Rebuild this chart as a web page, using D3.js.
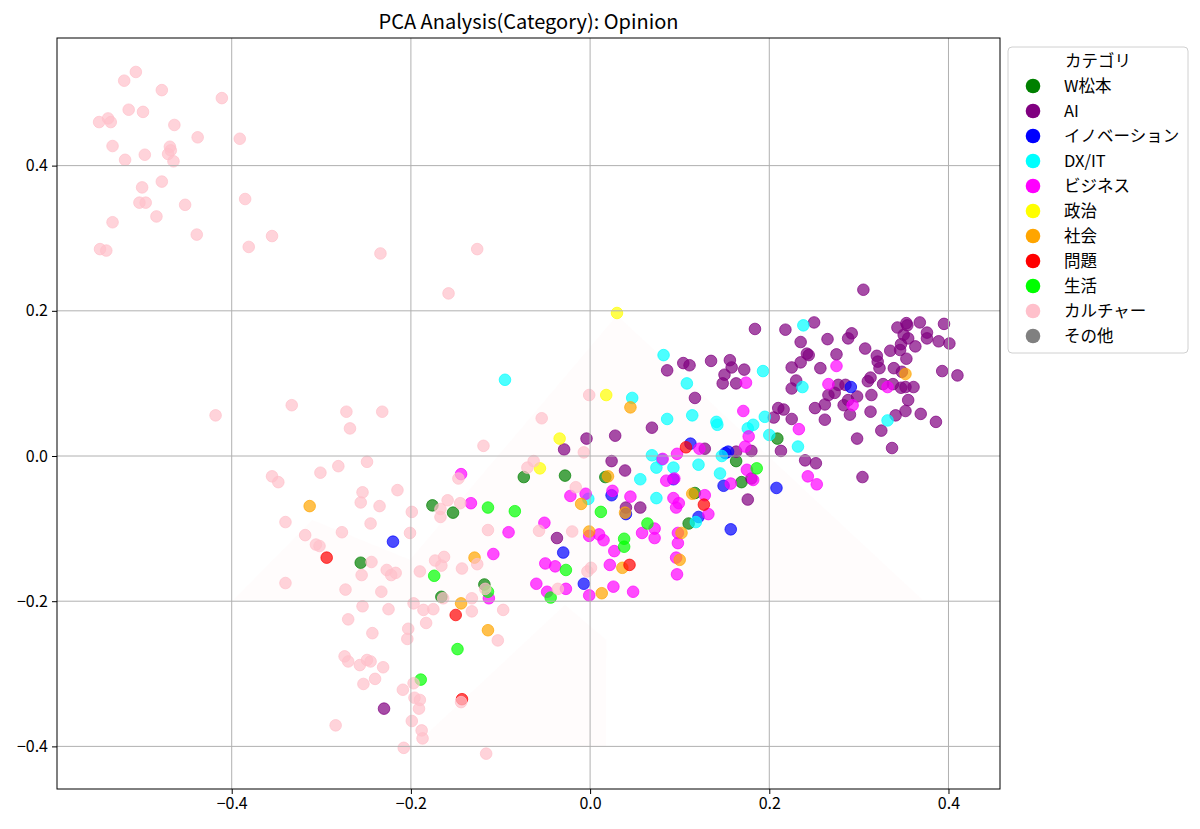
<!DOCTYPE html>
<html>
<head>
<meta charset="utf-8">
<script src="https://cdn.jsdelivr.net/npm/d3@7"></script>
<style>
  body { margin: 0; background: #fff; }
  svg { display: block; }
  text { font-family: "Noto Sans CJK JP", "Noto Sans", sans-serif; fill: #000; }
</style>
</head>
<body>
<div id="chart"></div>
<script>
// PCA scatter, one array of [pc1, pc2] per category
var CATEGORIES = ["W松本", "AI", "イノベーション", "DX/IT", "ビジネス", "政治", "社会", "問題", "生活", "カルチャー", "その他"];
var COLORS = ["#008000", "#800080", "#0000ff", "#00ffff", "#ff00ff", "#ffff00", "#ffa500", "#ff0000", "#00ff00", "#ffc0cb", "#808080"];

var W_MATSUMOTO = [[-0.176,-0.068],[-0.153,-0.078],[-0.256,-0.147],[-0.166,-0.194],[-0.118,-0.177],[-0.074,-0.029],
  [-0.028,-0.027],[0.017,-0.029],[0.117,-0.051],[0.110,-0.093],[0.163,-0.007],[0.169,-0.036],[0.209,0.024]];

var AI = [[-0.230,-0.348],[-0.029,0.009],[-0.004,0.024],[0.028,0.028],[0.024,-0.007],[-0.037,-0.113],
  [0.184,0.175],[0.218,0.174],[0.235,0.157],[0.242,0.141],[0.244,0.139],[0.104,0.128],[0.111,0.125],[0.086,0.118],
  [0.135,0.131],[0.156,0.132],[0.158,0.122],[0.172,0.119],[0.150,0.112],[0.148,0.100],[0.163,0.100],[0.225,0.122],
  [0.235,0.129],[0.230,0.104],[0.225,0.093],[0.117,0.080],[0.210,0.066],[0.216,0.064],[0.205,0.053],[0.225,0.051],
  [0.069,0.039],[0.213,0.007],[0.128,0.010],[0.163,0.006],[0.180,0.007],[0.039,-0.020],[0.180,-0.031],[0.240,-0.006],
  [0.176,-0.060],[0.040,-0.071],[0.056,-0.071],[0.305,0.229],[0.250,0.184],[0.265,0.161],[0.288,0.162],[0.292,0.169],
  [0.275,0.140],[0.307,0.148],[0.320,0.138],[0.321,0.130],[0.323,0.121],[0.343,0.177],[0.353,0.183],[0.354,0.180],
  [0.368,0.184],[0.395,0.182],[0.376,0.170],[0.376,0.162],[0.389,0.158],[0.401,0.155],[0.350,0.167],[0.355,0.162],
  [0.347,0.154],[0.346,0.146],[0.363,0.151],[0.335,0.145],[0.353,0.134],[0.339,0.121],[0.348,0.116],[0.393,0.117],
  [0.410,0.111],[0.257,0.121],[0.277,0.098],[0.285,0.098],[0.313,0.108],[0.310,0.103],[0.327,0.099],[0.338,0.099],
  [0.347,0.094],[0.352,0.095],[0.361,0.095],[0.266,0.084],[0.273,0.087],[0.298,0.082],[0.314,0.084],[0.288,0.077],
  [0.283,0.070],[0.262,0.071],[0.251,0.066],[0.355,0.077],[0.352,0.062],[0.341,0.056],[0.313,0.061],[0.290,0.057],
  [0.369,0.058],[0.386,0.047],[0.262,0.050],[0.325,0.035],[0.298,0.024],[0.337,0.011],[0.252,-0.010],[0.304,-0.029]];

var INNOVATION = [[-0.220,-0.118],[-0.030,-0.133],[-0.007,-0.176],[0.024,-0.054],[0.040,-0.080],[0.112,0.017],
  [0.151,0.004],[0.154,0.006],[0.093,-0.032],[0.149,-0.041],[0.208,-0.044],[0.121,-0.084],[0.157,-0.101],[0.291,0.095]];

var DX_IT = [[-0.095,0.105],[-0.002,-0.059],[0.238,0.180],[0.082,0.139],[0.193,0.117],[0.237,0.095],[0.108,0.100],
  [0.047,0.080],[0.195,0.054],[0.086,0.051],[0.114,0.056],[0.141,0.047],[0.142,0.043],[0.182,0.043],[0.176,0.038],
  [0.200,0.029],[0.232,0.013],[0.069,0.001],[0.080,-0.005],[0.074,-0.016],[0.093,-0.016],[0.121,-0.012],[0.147,0.000],
  [0.056,-0.032],[0.145,-0.024],[0.074,-0.058],[0.118,-0.091],[0.332,0.049]];

var BUSINESS = [[-0.144,-0.025],[-0.133,-0.065],[-0.091,-0.105],[-0.051,-0.092],[-0.022,-0.055],[-0.005,-0.052],
  [0.025,-0.048],[-0.001,-0.110],[0.010,-0.108],[0.015,-0.116],[0.027,-0.131],[-0.108,-0.135],[-0.050,-0.148],
  [-0.039,-0.152],[0.022,-0.150],[-0.060,-0.176],[-0.048,-0.187],[-0.027,-0.183],[0.026,-0.180],[-0.001,-0.192],
  [-0.113,-0.196],[0.174,0.101],[0.171,0.062],[0.233,0.037],[0.177,0.027],[0.122,0.010],[0.097,0.003],[0.081,-0.004],
  [0.085,-0.034],[0.094,-0.031],[0.157,-0.038],[0.175,-0.019],[0.182,-0.033],[0.243,-0.028],[0.045,-0.056],
  [0.093,-0.058],[0.128,-0.054],[0.099,-0.065],[0.096,-0.071],[0.132,-0.080],[0.072,-0.100],[0.058,-0.106],
  [0.072,-0.113],[0.098,-0.106],[0.098,-0.120],[0.096,-0.140],[0.097,-0.163],[0.048,-0.187],[0.275,0.124],
  [0.266,0.099],[0.332,0.095],[0.293,0.070],[0.253,-0.039],[0.173,0.013]];

var POLITICS = [[0.030,0.197],[0.018,0.084],[-0.034,0.024],[-0.056,-0.017]];

var SOCIETY = [[-0.313,-0.069],[0.020,-0.028],[-0.010,-0.066],[-0.001,-0.104],[-0.129,-0.140],[0.013,-0.189],
  [-0.144,-0.203],[-0.114,-0.240],[0.045,0.067],[0.114,-0.052],[0.039,-0.078],[0.102,-0.106],[0.100,-0.143],
  [0.036,-0.154],[0.352,0.113]];

var PROBLEM = [[-0.294,-0.140],[-0.150,-0.219],[-0.143,-0.335],[0.107,0.012],[0.127,-0.067],[0.044,-0.150]];

var LIFE = [[-0.114,-0.071],[-0.084,-0.076],[0.012,-0.077],[-0.027,-0.157],[-0.174,-0.165],[-0.114,-0.187],
  [-0.044,-0.195],[-0.148,-0.266],[-0.189,-0.308],[0.064,-0.093],[0.038,-0.114],[0.038,-0.125],[0.186,-0.017]];

var CULTURE = [[-0.507,0.529],[-0.520,0.517],[-0.478,0.504],[-0.411,0.493],[-0.515,0.477],[-0.499,0.474],
  [-0.548,0.460],[-0.538,0.465],[-0.535,0.460],[-0.464,0.456],[-0.438,0.439],[-0.391,0.437],[-0.533,0.427],
  [-0.469,0.426],[-0.468,0.421],[-0.471,0.416],[-0.497,0.415],[-0.519,0.408],[-0.465,0.406],[-0.478,0.378],
  [-0.500,0.370],[-0.503,0.349],[-0.496,0.349],[-0.452,0.346],[-0.385,0.354],[-0.484,0.330],[-0.533,0.322],
  [-0.439,0.305],[-0.355,0.303],[-0.381,0.288],[-0.547,0.285],[-0.540,0.283],[-0.234,0.279],[-0.126,0.285],
  [-0.158,0.224],[-0.418,0.056],[-0.333,0.070],[-0.272,0.061],[-0.232,0.061],[-0.268,0.038],[-0.249,-0.008],
  [-0.281,-0.014],[-0.301,-0.023],[-0.355,-0.028],[-0.348,-0.036],[-0.254,-0.050],[-0.215,-0.047],[-0.256,-0.064],
  [-0.235,-0.069],[-0.199,-0.077],[-0.340,-0.091],[-0.245,-0.093],[-0.277,-0.105],[-0.201,-0.106],[-0.318,-0.109],
  [-0.306,-0.122],[-0.302,-0.124],[-0.244,-0.146],[-0.227,-0.157],[-0.222,-0.164],[-0.217,-0.161],[-0.255,-0.164],
  [-0.190,-0.159],[-0.173,-0.144],[-0.340,-0.175],[-0.273,-0.184],[-0.233,-0.187],[-0.254,-0.207],[-0.225,-0.211],
  [-0.197,-0.203],[-0.186,-0.212],[-0.175,-0.211],[-0.270,-0.225],[-0.203,-0.238],[-0.183,-0.230],[-0.243,-0.244],
  [-0.204,-0.252],[-0.274,-0.276],[-0.270,-0.283],[-0.257,-0.288],[-0.249,-0.281],[-0.245,-0.283],[-0.231,-0.291],
  [-0.240,-0.307],[-0.253,-0.314],[-0.209,-0.322],[-0.197,-0.313],[-0.196,-0.333],[-0.190,-0.336],[-0.191,-0.348],
  [-0.199,-0.365],[-0.188,-0.378],[-0.187,-0.389],[-0.284,-0.371],[-0.208,-0.402],[-0.167,-0.073],[-0.167,-0.084],
  [-0.159,-0.061],[-0.145,-0.065],[-0.147,-0.031],[-0.119,0.014],[-0.054,0.052],[-0.001,0.084],[-0.007,0.005],
  [-0.063,-0.007],[-0.070,-0.016],[-0.016,-0.043],[-0.114,-0.102],[-0.057,-0.103],[-0.020,-0.104],[-0.163,-0.139],
  [-0.166,-0.151],[-0.143,-0.155],[-0.126,-0.149],[0.001,-0.154],[-0.003,-0.159],[-0.036,-0.183],[-0.117,-0.183],
  [-0.164,-0.196],[-0.132,-0.196],[-0.132,-0.214],[-0.097,-0.212],[-0.103,-0.254],[-0.144,-0.339],[-0.116,-0.410]];

var OTHER = [];

var SERIES = [W_MATSUMOTO, AI, INNOVATION, DX_IT, BUSINESS, POLITICS, SOCIETY, PROBLEM, LIFE, CULTURE, OTHER];

var X_TICKS = [-0.4, -0.2, 0.0, 0.2, 0.4];
var Y_TICKS = [-0.4, -0.2, 0.0, 0.2, 0.4];

// very faint pink backdrop shapes seen behind the points
var BACKDROP = [
  [[-0.398,-0.198],[-0.310,-0.088],[-0.201,-0.143],[0.030,0.194],[0.371,-0.198]],
  [[-0.198,-0.401],[-0.028,-0.205],[0.018,-0.253],[0.018,-0.401]]
];

(function () {
  var W = 1200, H = 829;
  var plotL = 57, plotR = 1000, plotT = 38, plotB = 789;

  var svg = d3.select("#chart").append("svg")
    .attr("width", W)
    .attr("height", H);

  var x = d3.scaleLinear().domain([-0.595, 0.4575]).range([plotL, plotR]);
  var y = d3.scaleLinear().domain([-0.4587, 0.5758]).range([plotB, plotT]);
  var fmt = d3.format(".1f");

  svg.append("g").selectAll("path")
    .data(BACKDROP)
    .enter().append("path")
    .attr("d", function (pts) {
      return "M" + pts.map(function (p) { return x(p[0]) + "," + y(p[1]); }).join("L") + "Z";
    })
    .attr("fill", "#ffc0cb")
    .attr("fill-opacity", 0.05);

  // points, one group per category in legend order
  var plot = svg.append("g");
  SERIES.forEach(function (pts, i) {
    plot.append("g").selectAll("circle")
      .data(pts)
      .enter().append("circle")
      .attr("cx", function (d) { return x(d[0]); })
      .attr("cy", function (d) { return y(d[1]); })
      .attr("r", 5.8)
      .attr("fill", COLORS[i])
      .attr("fill-opacity", 0.7)
      .attr("stroke", COLORS[i])
      .attr("stroke-opacity", 0.7)
      .attr("stroke-width", 1);
  });

  // grid sits above the scatter like matplotlib's default
  var grid = svg.append("g").attr("stroke", "#b0b0b0").attr("stroke-width", 1);
  grid.selectAll("line.gx").data(X_TICKS).enter().append("line")
    .attr("x1", function (d) { return x(d); }).attr("x2", function (d) { return x(d); })
    .attr("y1", plotT).attr("y2", plotB);
  grid.selectAll("line.gy").data(Y_TICKS).enter().append("line")
    .attr("y1", function (d) { return y(d); }).attr("y2", function (d) { return y(d); })
    .attr("x1", plotL).attr("x2", plotR);

  var xAxis = svg.append("g")
    .attr("transform", "translate(0," + plotB + ")")
    .call(d3.axisBottom(x).tickValues(X_TICKS).tickFormat(fmt).tickSize(5).tickPadding(4));
  var yAxis = svg.append("g")
    .attr("transform", "translate(" + plotL + ",0)")
    .call(d3.axisLeft(y).tickValues(Y_TICKS).tickFormat(fmt).tickSize(5).tickPadding(4));
  [xAxis, yAxis].forEach(function (a) {
    a.select(".domain").remove();
    a.selectAll("text").style("font-size", "16px").style("font-family", "'Noto Sans CJK JP', sans-serif");
    a.selectAll("line").attr("stroke", "#000");
  });

  svg.append("rect")
    .attr("x", plotL).attr("y", plotT)
    .attr("width", plotR - plotL).attr("height", plotB - plotT)
    .attr("fill", "none").attr("stroke", "#000").attr("stroke-width", 1);

  svg.append("text")
    .attr("x", (plotL + plotR) / 2).attr("y", 29)
    .attr("text-anchor", "middle")
    .style("font-size", "20px")
    .text("PCA Analysis(Category): Opinion");

  // legend
  var lg = svg.append("g").attr("transform", "translate(1008,47)");
  lg.append("rect")
    .attr("width", 180).attr("height", 306).attr("rx", 4)
    .attr("fill", "#fff").attr("fill-opacity", 0.8)
    .attr("stroke", "#d0d0d0");
  lg.append("text")
    .attr("x", 90).attr("y", 20)
    .attr("text-anchor", "middle")
    .style("font-size", "16.5px")
    .text("カテゴリ");
  var items = lg.selectAll("g.item")
    .data(CATEGORIES)
    .enter().append("g")
    .attr("transform", function (d, i) { return "translate(0," + (39 + i * 25) + ")"; });
  items.append("circle")
    .attr("cx", 25).attr("cy", 0).attr("r", 7.3)
    .attr("fill", function (d, i) { return COLORS[i]; });
  items.append("text")
    .attr("x", 56).attr("y", 6)
    .style("font-size", "16.5px")
    .text(function (d) { return d; });
})();
</script>
</body>
</html>
